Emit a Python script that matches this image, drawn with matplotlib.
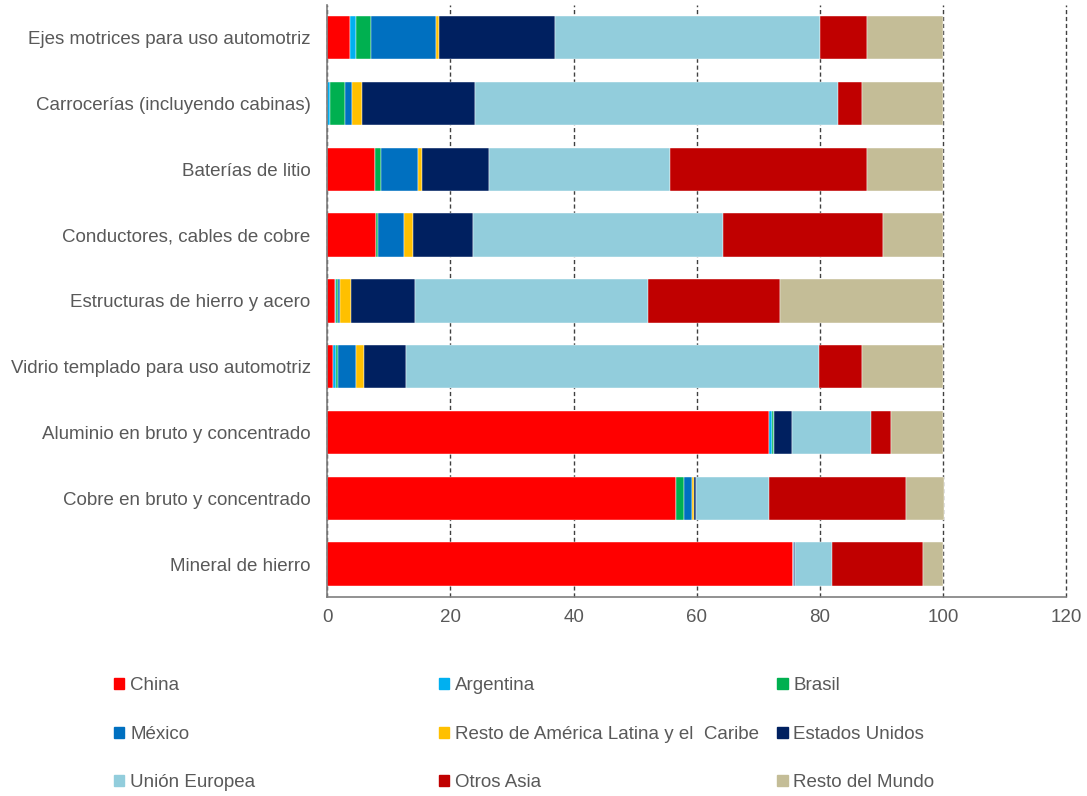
import matplotlib.pyplot as plt
import matplotlib.patches as mpatches
import numpy as np

plt.rcParams['font.family'] = ['Liberation Sans', 'DejaVu Sans']

categories = [
    "Ejes motrices para uso automotriz",
    "Carrocerías (incluyendo cabinas)",
    "Baterías de litio",
    "Conductores, cables de cobre",
    "Estructuras de hierro y acero",
    "Vidrio templado para uso automotriz",
    "Aluminio en bruto y concentrado",
    "Cobre en bruto y concentrado",
    "Mineral de hierro",
]

series_names = [
    "China", "Argentina", "Brasil",
    "México", "Resto de América Latina y el  Caribe", "Estados Unidos",
    "Unión Europea", "Otros Asia", "Resto del Mundo",
]

china      = [3.7, 0.0, 7.7, 8.0, 1.3, 0.9, 71.8, 56.7, 75.7]
argentina  = [1.0, 0.4, 0.0, 0.0, 0.2, 0.6, 0.4, 0.0, 0.0]
brasil     = [2.4, 2.5, 1.0, 0.2, 0.2, 0.3, 0.3, 1.3, 0.0]
mexico     = [10.6, 1.1, 6.0, 4.3, 0.4, 2.9, 0.0, 1.3, 0.1]
resto_al   = [0.5, 1.6, 0.7, 1.4, 1.8, 1.2, 0.0, 0.2, 0.0]
eeuu       = [18.8, 18.4, 10.9, 9.8, 10.4, 6.9, 2.9, 0.4, 0.2]
ue         = [43.0, 59.0, 29.3, 40.6, 37.8, 67.1, 12.9, 11.9, 6.0]
otros_asia = [7.7, 3.9, 32.1, 26.0, 21.4, 7.0, 3.3, 22.1, 14.8]
resto_mund = [12.3, 13.1, 12.3, 9.7, 26.5, 13.1, 8.4, 6.3, 3.2]

colors = ["#FF0000", "#00B0F0", "#00B050", "#0070C0", "#FFC000",
          "#002060", "#92CDDC", "#C00000", "#C4BD97"]

series = [china, argentina, brasil, mexico, resto_al, eeuu, ue, otros_asia, resto_mund]

grey = "#595959"
fs = 13.5

fig = plt.figure(figsize=(10.87, 7.96), dpi=100)
ax = fig.add_axes([0.301, 0.25, 0.68, 0.744])

y = np.arange(len(categories))
left = np.zeros(len(categories))
handles = []
for name, vals, col in zip(series_names, series, colors):
    vals = np.array(vals)
    ax.barh(y, vals, left=left, height=0.66, color=col, edgecolor='white', linewidth=0.3)
    left += vals
    handles.append(mpatches.Patch(color=col, label=name))

ax.set_ylim(len(categories) - 0.5, -0.5)
ax.set_xlim(0, 120)
ax.set_xticks(np.arange(0, 121, 20))
ax.set_yticks(y)
ax.set_yticklabels(categories)
ax.tick_params(axis='both', length=0, labelsize=fs, colors=grey)
ax.tick_params(axis='y', pad=12)
ax.tick_params(axis='x', pad=9)

ax.xaxis.grid(True, linestyle=(0, (3, 2)), color='#404040', linewidth=1)
for gl in ax.get_xgridlines():
    gl.set_clip_on(False)
ax.set_axisbelow(True)
for s in ['top', 'right']:
    ax.spines[s].set_visible(False)
for s in ['left', 'bottom']:
    ax.spines[s].set_color('#7f7f7f')
    ax.spines[s].set_linewidth(1.2)

# legend: three columns, row-major order
col_x = [0.105, 0.404, 0.715]
for j in range(3):
    fig.legend(handles=handles[j::3], loc='upper left', bbox_to_anchor=(col_x[j], 0.149),
               frameon=False, fontsize=fs, labelcolor=grey,
               handlelength=0.55, handleheight=0.55, handletextpad=0.3,
               labelspacing=1.68, borderpad=0, borderaxespad=0)

fig.savefig("out.png", dpi=100)
